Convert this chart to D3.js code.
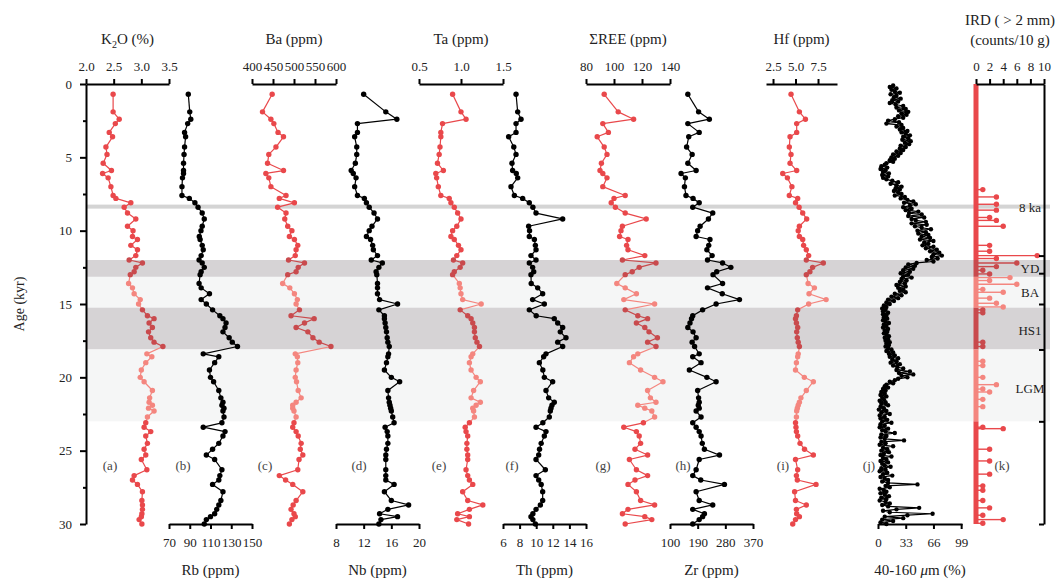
<!DOCTYPE html>
<html>
<head>
<meta charset="utf-8">
<script src="https://cdn.jsdelivr.net/npm/d3@7"></script>
<style>
  body { margin: 0; background: #fff; }
  svg text { font-family: "Liberation Serif", "DejaVu Serif", serif; fill: #222; }
</style>
</head>
<body>
<svg id="chart" width="1057" height="579"></svg>
<script>
// sample ages (kyr) shared by the geochemistry panels a-i
const ages = [0.7, 1.9, 2.4, 2.7, 3.3, 3.6, 4.3, 4.8, 5.4, 5.9,
  6.1, 6.4, 7.0, 7.6, 7.8, 8.1, 8.4, 8.8, 9.2, 9.7,
  10.0, 10.4, 10.6, 11.0, 11.3, 11.7, 12.0, 12.2, 12.5, 12.8,
  13.0, 13.6, 13.9, 14.3, 14.7, 15.0, 15.4, 15.8, 16.0, 16.3,
  16.6, 16.9, 17.3, 17.6, 17.9, 18.4, 18.6, 19.0, 19.5, 20.0,
  20.3, 20.9, 21.4, 21.7, 21.9, 22.1, 22.3, 22.7, 23.1, 23.4,
  23.7, 24.0, 24.5, 24.9, 25.3, 25.6, 26.3, 26.7, 27.0, 27.3,
  27.8, 28.4, 28.7, 29.0, 29.3, 29.5, 29.7, 30.0];

const k2o = [2.49, 2.49, 2.60, 2.53, 2.42, 2.48, 2.36, 2.38, 2.31, 2.46,
  2.30, 2.40, 2.45, 2.49, 2.54, 2.81, 2.69, 2.75, 2.90, 2.75,
  2.85, 2.84, 2.93, 2.81, 2.93, 2.90, 2.78, 3.02, 2.90, 2.87,
  2.80, 2.77, 2.84, 2.87, 2.98, 2.95, 3.02, 3.11, 3.23, 3.14,
  3.20, 3.13, 3.17, 3.23, 3.39, 3.10, 3.19, 3.08, 3.00, 2.98,
  3.05, 3.20, 3.15, 3.14, 3.20, 3.13, 3.23, 3.11, 3.08, 3.05,
  3.17, 3.08, 3.11, 3.05, 3.08, 3.00, 3.10, 2.87, 2.84, 2.93,
  3.02, 3.01, 3.02, 3.02, 3.01, 3.00, 2.96, 3.01];

const rb = [88.6, 90, 91, 88, 85, 86, 85, 84.5, 84, 84,
  84, 83, 82.5, 82.5, 89.6, 95, 98, 102, 104, 102,
  100.8, 99.2, 100, 102, 103, 101, 99, 102, 104, 101,
  100, 99, 101, 109, 101, 106, 112, 119, 122, 125,
  124, 122, 128, 131, 136, 103, 118, 114, 109, 110,
  113, 118, 120, 122, 121, 123, 122, 123, 121, 103,
  124, 122, 118, 112, 106, 114, 121, 119, 118, 112,
  122, 120, 118, 116, 114, 110, 106, 104];

const ba = [448, 425, 445, 452, 462, 475, 457, 440, 437, 475,
  433, 440, 445, 481, 465, 501, 461, 481, 478, 485,
  495, 489, 501, 509, 505, 503, 487, 525, 510, 505,
  485, 473, 490, 501, 508, 505, 513, 493, 548, 525,
  505, 533, 545, 560, 588, 503, 508, 509, 505, 503,
  506, 510, 517, 505, 497, 497, 500, 505, 500, 497,
  505, 510, 517, 515, 521, 512, 509, 465, 480, 497,
  521, 505, 498, 493, 500, 503, 495, 489];

const nb = [12.0, 15.2, 16.8, 11.1, 11.1, 10.7, 11.0, 11.0, 10.8, 10.2,
  10.5, 10.9, 10.7, 11.1, 12.1, 12.4, 12.8, 13.5, 14.0, 13.2,
  12.8, 12.4, 13.0, 13.3, 13.4, 14.0, 13.1, 14.7, 14.2, 13.8,
  13.9, 14.0, 14.0, 14.0, 14.3, 16.9, 14.2, 15.0, 15.0, 15.1,
  15.2, 15.3, 15.4, 15.5, 15.7, 15.6, 15.5, 15.3, 15.0, 16.0,
  17.2, 15.5, 15.6, 15.7, 15.8, 15.9, 16.0, 16.2, 16.4, 15.1,
  15.4, 15.5, 15.5, 15.3, 15.2, 15.2, 15.2, 15.2, 15.2, 16.4,
  15.0, 16.0, 18.5, 15.5, 14.3, 16.9, 14.5, 14.2];

const ta = [0.90, 1.00, 1.06, 0.78, 0.76, 0.76, 0.75, 0.74, 0.72, 0.79,
  0.70, 0.71, 0.73, 0.76, 0.86, 0.88, 0.92, 0.96, 1.00, 0.95,
  0.90, 0.88, 0.92, 0.97, 1.00, 0.95, 0.91, 1.02, 0.99, 0.92,
  0.90, 0.98, 0.99, 1.00, 1.02, 1.24, 0.99, 1.08, 1.12, 1.14,
  1.16, 1.16, 1.17, 1.19, 1.22, 1.14, 1.12, 1.10, 1.12, 1.18,
  1.23, 1.15, 1.12, 1.23, 1.18, 1.14, 1.15, 1.16, 1.10, 1.05,
  1.06, 1.08, 1.07, 1.07, 1.08, 1.08, 1.06, 1.08, 1.10, 1.14,
  1.02, 1.08, 1.26, 1.10, 0.96, 1.10, 0.95, 1.09];

const th = [7.57, 7.77, 8.17, 7.57, 7.57, 6.68, 7.3, 7.57, 7.08, 7.16,
  7.6, 7.77, 6.96, 7.37, 8.37, 9.17, 9.6, 9.98, 13.19, 9.09,
  9.2, 9.17, 9.78, 9.9, 9.98, 9.37, 9.98, 9.17, 9.57, 9.7,
  9.37, 9.4, 10.18, 10.78, 9.57, 10.98, 9.17, 10.0, 12.18, 12.59,
  13.19, 12.9, 13.59, 12.59, 13.19, 11.18, 10.9, 10.38, 10.8, 10.98,
  11.98, 11.18, 11.5, 12.18, 11.9, 11.78, 11.7, 11.58, 10.8, 9.98,
  11.18, 10.98, 10.6, 10.4, 10.3, 9.98, 11.1, 9.98, 10.3, 10.6,
  10.78, 10.78, 10.5, 9.98, 9.6, 9.37, 9.6, 9.9];

const ree = [93, 103, 114, 92, 96, 88, 93, 95, 91, 90,
  92, 95, 92, 108, 100, 98, 101, 108, 123, 106,
  105, 104, 110, 109, 110, 122, 106, 130, 118, 113,
  108, 102, 108, 116, 107, 129, 108, 117, 124, 116,
  122, 125, 131, 124, 130, 117, 114, 111, 119, 129,
  135, 124, 126, 130, 117, 122, 127, 129, 121, 107,
  116, 118, 119, 115, 124, 111, 116, 124, 115, 110,
  116, 119, 129, 110, 106, 122, 127, 108];

const zr = [158, 193, 228, 158, 195, 161, 154, 172, 158, 185,
  136, 150, 147, 152, 175, 195, 174, 239, 225, 198,
  190, 185, 230, 226, 220, 237, 222, 271, 298, 252,
  240, 271, 222, 270, 326, 250, 206, 174, 170, 165,
  158, 175, 185, 172, 180, 195, 174, 201, 163, 220,
  250, 190, 193, 195, 192, 195, 185, 201, 174, 185,
  195, 201, 205, 212, 261, 195, 185, 174, 200, 277,
  185, 195, 239, 174, 212, 206, 195, 174];

const hf = [4.5, 5.43, 6.1, 5.13, 5.13, 4.39, 4.31, 4.5, 4.39, 5.13,
  3.58, 4.1, 4.6, 4.31, 5.24, 5.0, 5.4, 5.8, 6.24, 5.43,
  5.3, 5.43, 5.8, 5.9, 6.2, 6.46, 6.2, 8.09, 6.9, 6.6,
  6.2, 6.4, 7.1, 6.5, 8.4, 6.46, 5.24, 5.1, 5.0, 5.1,
  5.24, 5.13, 5.2, 5.3, 5.43, 5.3, 5.24, 5.1, 5.0, 5.98,
  6.98, 6.2, 5.6, 5.43, 5.3, 5.2, 5.13, 5.1, 5.0, 5.05,
  5.1, 5.24, 5.5, 6.0, 6.98, 5.0, 5.24, 5.1, 5.2, 7.28,
  4.9, 5.0, 6.2, 5.1, 5.13, 5.43, 5.0, 4.69];

// 40-160 um fraction (%): [age, percent]
const grainSize = [
  [0.1,18],[0.2,14],[0.3,22],[0.4,16],[0.5,20],[0.6,26],[0.7,15],[0.8,22],[0.9,19],[1.0,27],
  [1.1,17],[1.2,24],[1.3,14],[1.4,21],[1.5,30],[1.6,22],[1.7,33],[1.8,25],[1.9,36],[2.0,28],
  [2.1,34],[2.2,24],[2.3,30],[2.4,20],[2.5,12],[2.6,25],[2.7,10],[2.8,28],[2.9,22],[3.0,30],
  [3.1,26],[3.2,35],[3.3,28],[3.4,33],[3.5,38],[3.6,30],[3.7,36],[3.8,29],[3.9,39],[4.0,32],
  [4.1,37],[4.2,27],[4.3,33],[4.4,26],[4.5,30],[4.6,22],[4.7,27],[4.8,18],[4.9,24],[5.0,16],
  [5.1,20],[5.2,14],[5.3,18],[5.4,10],[5.5,8],[5.6,4],[5.7,11],[5.8,3],[5.9,9],[6.0,6],
  [6.1,13],[6.2,5],[6.3,12],[6.4,6],[6.5,10],[6.6,17],[6.7,24],[6.8,15],[6.9,22],[7.0,28],
  [7.1,21],[7.2,26],[7.3,19],[7.4,24],[7.5,28],[7.6,20],[7.7,32],[7.8,27],[7.9,35],[8.0,42],
  [8.1,31],[8.2,45],[8.3,38],[8.4,30],[8.5,40],[8.6,33],[8.7,48],[8.8,37],[8.9,52],[9.0,36],
  [9.1,55],[9.2,40],[9.3,45],[9.4,57],[9.5,40],[9.6,58],[9.7,44],[9.8,52],[9.9,63],[10.0,47],
  [10.1,57],[10.2,48],[10.3,60],[10.4,52],[10.5,62],[10.6,50],[10.7,66],[10.8,55],[10.9,60],[11.0,53],
  [11.1,66],[11.2,57],[11.3,70],[11.4,62],[11.5,73],[11.6,66],[11.7,76],[11.8,64],[11.9,71],[12.0,58],
  [12.1,66],[12.2,46],[12.3,36],[12.4,44],[12.5,33],[12.6,42],[12.7,30],[12.8,38],[12.9,27],[13.0,36],
  [13.1,30],[13.2,40],[13.3,28],[13.4,34],[13.5,26],[13.6,32],[13.7,22],[13.8,33],[13.9,24],[14.0,30],
  [14.1,26],[14.2,33],[14.3,20],[14.4,28],[14.5,16],[14.6,24],[14.7,12],[14.8,19],[14.9,10],[15.0,14],
  [15.1,7],[15.2,10],[15.3,5],[15.4,9],[15.5,6],[15.6,12],[15.7,6],[15.8,10],[15.9,7],[16.0,11],
  [16.1,6],[16.2,9],[16.3,13],[16.4,7],[16.5,10],[16.6,6],[16.7,12],[16.8,8],[16.9,11],[17.0,7],
  [17.1,10],[17.2,13],[17.3,8],[17.4,12],[17.5,9],[17.6,14],[17.7,10],[17.8,13],[17.9,9],[18.0,12],
  [18.1,16],[18.2,10],[18.3,18],[18.4,13],[18.5,20],[18.6,14],[18.7,24],[18.8,17],[18.9,22],[19.0,15],
  [19.1,26],[19.2,18],[19.3,23],[19.4,30],[19.5,22],[19.6,38],[19.7,25],[19.8,42],[19.9,28],[20.0,35],
  [20.1,24],[20.2,20],[20.3,14],[20.4,18],[20.5,10],[20.6,8],[20.7,12],[20.8,6],[20.9,9],[21.0,4],
  [21.1,8],[21.2,3],[21.3,10],[21.4,5],[21.5,7],[21.6,2],[21.7,9],[21.8,4],[21.9,12],[22.0,3],
  [22.1,7],[22.2,1],[22.3,10],[22.4,4],[22.5,14],[22.6,2],[22.7,8],[22.8,3],[22.9,11],[23.0,5],
  [23.1,16],[23.2,3],[23.3,8],[23.4,2],[23.5,12],[23.6,5],[23.7,9],[23.8,20],[23.9,4],[24.0,10],
  [24.1,3],[24.2,8],[24.3,31],[24.4,4],[24.5,9],[24.6,2],[24.7,18],[24.8,6],[24.9,11],[25.0,4],
  [25.1,13],[25.2,7],[25.3,3],[25.4,16],[25.5,6],[25.6,10],[25.7,3],[25.8,12],[25.9,5],[26.0,8],
  [26.1,15],[26.2,4],[26.3,9],[26.4,2],[26.5,11],[26.6,6],[26.7,17],[26.8,3],[26.9,8],[27.0,12],
  [27.1,5],[27.2,12],[27.3,47],[27.4,9],[27.5,14],[27.6,2],[27.7,7],[27.8,10],[27.9,3],[28.0,8],
  [28.1,13],[28.2,4],[28.3,10],[28.4,2],[28.5,9],[28.6,14],[28.7,5],[28.8,12],[28.9,49],[29.0,22],
  [29.1,6],[29.2,14],[29.3,65],[29.4,35],[29.5,8],[29.6,30],[29.7,5],[29.8,18],[29.9,3],[30.0,10]
];

// IRD > 2 mm, non-zero samples only (counts / 10 g)
const irdAges = [7.2, 7.7, 8.2, 8.6, 9.1, 9.3, 9.7, 11.0, 11.4, 11.7,
  11.9, 12.2, 12.45, 12.7, 12.95, 13.2, 13.4, 13.65, 14.0, 14.2,
  14.6, 14.95, 15.2, 15.4, 15.6, 17.6, 17.9, 18.9, 19.2, 20.0,
  20.5, 20.8, 21.0, 21.5, 22.0, 23.4, 23.5, 24.9, 25.7, 26.6,
  27.4, 27.7, 28.4, 28.9, 29.4, 29.7, 29.95];
const irdCounts = [1, 3, 3, 3, 2, 3, 4, 2, 2, 9,
  3, 6, 3, 1, 2, 5, 2, 6, 1, 4,
  2, 3, 4, 1, 1, 1, 1, 1, 1, 1,
  3, 1, 2, 1, 1, 1, 4, 2, 2, 2,
  1, 1, 1, 2, 1, 4, 1];

// climate intervals (kyr)
const ydBand = [12.0, 13.15];
const baBand = [13.15, 15.25];
const hs1Band = [15.25, 18.1];
const lgmBand = [18.1, 23.0];
const event8ka = 8.36;
const boundaryTicks = [11.7, 12.9, 15.0, 18.1, 23.0, 30];
const ageTicks = [0, 5, 10, 15, 20, 25, 30];
const ageMinor = [2.5, 7.5, 12.5, 17.5, 22.5, 27.5];

const FONT = "'Liberation Serif', 'DejaVu Serif', serif";
const RED = "#e9484b", SALMON = "#f4867f", DARK_RED = "#c94a4d";
const BAND_DARK = "#d6d3d5", BAND_LIGHT = "#f5f6f6";

const svg = d3.select("#chart");
const y = d3.scaleLinear().domain([0, 30]).range([84, 524]);
const plotLeft = 86, plotRight = 1050;

function periodColor(a) {
  if ((a >= ydBand[0] && a < ydBand[1]) || (a >= hs1Band[0] && a < hs1Band[1])) return DARK_RED;
  if ((a >= baBand[0] && a < baBand[1]) || (a >= lgmBand[0] && a <= lgmBand[1])) return SALMON;
  return RED;
}

// background bands
const bandG = svg.append("g");
[[ydBand, BAND_DARK], [baBand, BAND_LIGHT], [hs1Band, BAND_DARK], [lgmBand, BAND_LIGHT]].forEach(([b, c]) => {
  bandG.append("rect")
    .attr("x", plotLeft).attr("width", plotRight - plotLeft)
    .attr("y", y(b[0])).attr("height", y(b[1]) - y(b[0]))
    .attr("fill", c);
});
bandG.append("rect")
  .attr("x", plotLeft).attr("width", plotRight - plotLeft)
  .attr("y", y(event8ka) - 2).attr("height", 4)
  .attr("fill", "#d4d4d4");

const panels = [
  { vals: k2o, domain: [2, 3.5], range: [86, 169], side: "top", ticks: [2, 2.5, 3, 3.5], fmt: ".1f", red: true, label: "(a)", lx: 110, title: "K2O" },
  { vals: rb, domain: [70, 150], range: [169, 252], side: "bottom", ticks: [70, 90, 110, 130, 150], fmt: "d", red: false, label: "(b)", lx: 183, title: "Rb (ppm)" },
  { vals: ba, domain: [400, 600], range: [252, 336], side: "top", ticks: [400, 450, 500, 550, 600], fmt: "d", red: true, label: "(c)", lx: 265, title: "Ba (ppm)" },
  { vals: nb, domain: [8, 20], range: [336, 419], side: "bottom", ticks: [8, 12, 16, 20], fmt: "d", red: false, label: "(d)", lx: 359, title: "Nb (ppm)" },
  { vals: ta, domain: [0.5, 1.5], range: [419, 503], side: "top", ticks: [0.5, 1, 1.5], fmt: ".1f", red: true, label: "(e)", lx: 439, title: "Ta (ppm)" },
  { vals: th, domain: [6, 16], range: [503, 586], side: "bottom", ticks: [6, 8, 10, 12, 14, 16], fmt: "d", red: false, label: "(f)", lx: 512, title: "Th (ppm)" },
  { vals: ree, domain: [80, 140], range: [586, 670], side: "top", ticks: [80, 100, 120, 140], fmt: "d", red: true, label: "(g)", lx: 603, title: "\u03A3REE (ppm)" },
  { vals: zr, domain: [100, 370], range: [670, 753], side: "bottom", ticks: [100, 190, 280, 370], fmt: "d", red: false, label: "(h)", lx: 683, title: "Zr (ppm)" },
  { vals: hf, domain: [1.72, 9.61], range: [766, 837], side: "top", ticks: [2.5, 5, 7.5], fmt: ".1f", red: true, label: "(i)", lx: 783, title: "Hf (ppm)" }
];

function drawAxis(x, side, ticks, fmt) {
  const ax = (side === "top" ? d3.axisTop(x) : d3.axisBottom(x))
    .tickValues(ticks).tickFormat(d3.format(fmt))
    .tickSize(5).tickSizeOuter(0).tickPadding(side === "top" ? 8 : 9);
  const g = svg.append("g")
    .attr("transform", `translate(0,${side === "top" ? 84 : 524})`)
    .call(ax)
    .attr("font-family", FONT).attr("font-size", 13);
  g.select(".domain").attr("stroke", "#000").attr("stroke-width", 2);
  g.selectAll(".tick line").attr("stroke", "#000").attr("stroke-width", 2);
  g.selectAll(".tick text").attr("fill", "#222");
  return g;
}

function axisTitle(text, cx, side) {
  return svg.append("text")
    .attr("x", cx).attr("y", side === "top" ? 44 : 575)
    .attr("text-anchor", "middle").attr("font-size", 15)
    .text(text);
}

function panelLabel(text, x) {
  svg.append("text").attr("x", x).attr("y", 470)
    .attr("text-anchor", "middle").attr("font-size", 13)
    .style("fill", "#444").text(text);
}

panels.forEach(p => {
  const x = d3.scaleLinear().domain(p.domain).range(p.range);
  const pts = ages.map((a, i) => ({ a, v: p.vals[i] }));
  const g = svg.append("g");
  g.selectAll("line").data(d3.pairs(pts)).join("line")
    .attr("x1", d => x(d[0].v)).attr("y1", d => y(d[0].a))
    .attr("x2", d => x(d[1].v)).attr("y2", d => y(d[1].a))
    .attr("stroke", d => p.red ? periodColor((d[0].a + d[1].a) / 2) : "#000")
    .attr("stroke-width", 1.2);
  g.selectAll("circle").data(pts).join("circle")
    .attr("cx", d => x(d.v)).attr("cy", d => y(d.a)).attr("r", 2.7)
    .attr("fill", d => p.red ? periodColor(d.a) : "#000");
  drawAxis(x, p.side, p.ticks, p.fmt);
  panelLabel(p.label, p.lx);
  if (p.title === "K2O") {
    const t = axisTitle("", (p.range[0] + p.range[1]) / 2, "top");
    t.append("tspan").text("K");
    t.append("tspan").attr("font-size", 10).attr("dy", 4).text("2");
    t.append("tspan").attr("dy", -4).text("O (%)");
  } else {
    axisTitle(p.title, (p.range[0] + p.range[1]) / 2, p.side);
  }
});

// (j) 40-160 um fraction
const xg = d3.scaleLinear().domain([0, 100]).range([878, 962]);
const gj = svg.append("g");
gj.append("path").datum(grainSize)
  .attr("d", d3.line().x(d => xg(d[1])).y(d => y(d[0])))
  .attr("fill", "none").attr("stroke", "#000").attr("stroke-width", 1.2);
gj.selectAll("circle").data(grainSize).join("circle")
  .attr("cx", d => xg(d[1])).attr("cy", d => y(d[0])).attr("r", 2.2).attr("fill", "#000");
drawAxis(xg, "bottom", [0, 33, 66, 99], "d");
panelLabel("(j)", 869);
const tj = axisTitle("", 920, "bottom");
tj.append("tspan").text("40-160 ");
tj.append("tspan").attr("font-style", "italic").text("\u03BC");
tj.append("tspan").text("m (%)");

// (k) IRD
const xi = d3.scaleLinear().domain([0, 10]).range([976, 1044]);
const gk = svg.append("g");
const segs = [[0, ydBand[0]], ydBand, baBand, hs1Band, lgmBand, [lgmBand[1], 30]];
gk.selectAll("line.base").data(segs).join("line").attr("class", "base")
  .attr("x1", xi(0)).attr("x2", xi(0))
  .attr("y1", d => y(d[0])).attr("y2", d => y(d[1]))
  .attr("stroke", d => periodColor((d[0] + d[1]) / 2)).attr("stroke-width", 5);
const ird = irdAges.map((a, i) => ({ a, v: irdCounts[i] }));
gk.selectAll("line.stem").data(ird).join("line").attr("class", "stem")
  .attr("x1", xi(0)).attr("x2", d => xi(d.v))
  .attr("y1", d => y(d.a)).attr("y2", d => y(d.a))
  .attr("stroke", d => periodColor(d.a)).attr("stroke-width", 1.4);
gk.selectAll("circle").data(ird).join("circle")
  .attr("cx", d => xi(d.v)).attr("cy", d => y(d.a)).attr("r", 2.7)
  .attr("fill", d => periodColor(d.a));
drawAxis(xi, "top", [0, 2, 4, 6, 8, 10], "d");
panelLabel("(k)", 1002);
svg.append("text").attr("x", 1010).attr("y", 25).attr("text-anchor", "middle")
  .attr("font-size", 15).text("IRD ( > 2 mm)");
svg.append("text").attr("x", 1010).attr("y", 45).attr("text-anchor", "middle")
  .attr("font-size", 15).text("(counts/10 g)");

// left age axis
const la = svg.append("g").attr("transform", `translate(${plotLeft},0)`)
  .call(d3.axisLeft(y).tickValues(ageTicks).tickSize(6).tickPadding(8).tickSizeOuter(0))
  .attr("font-family", FONT).attr("font-size", 13);
la.select(".domain").attr("stroke", "#000").attr("stroke-width", 2);
la.selectAll(".tick line").attr("stroke", "#000").attr("stroke-width", 2);
const lm = svg.append("g").attr("transform", `translate(${plotLeft},0)`)
  .call(d3.axisLeft(y).tickValues(ageMinor).tickSize(3).tickFormat("").tickSizeOuter(0));
lm.select(".domain").remove();
lm.selectAll(".tick line").attr("stroke", "#000").attr("stroke-width", 2);

// right boundary axis
const ra = svg.append("g").attr("transform", "translate(1044,0)")
  .call(d3.axisRight(y).tickValues(boundaryTicks).tickSize(-5).tickFormat("").tickSizeOuter(0));
ra.select(".domain").attr("stroke", "#000").attr("stroke-width", 2);
ra.selectAll(".tick line").attr("stroke", "#000").attr("stroke-width", 2);

svg.append("text").attr("transform", "translate(24,304) rotate(-90)")
  .attr("text-anchor", "middle").attr("font-size", 14).text("Age (kyr)");

// interval labels
const intervalLabels = [["8 ka", event8ka], ["YD", 12.55], ["BA", 14.2], ["HS1", 16.8], ["LGM", 20.7]];
svg.selectAll("text.iv").data(intervalLabels).join("text").attr("class", "iv")
  .attr("x", 1030).attr("y", d => y(d[1]) + 5)
  .attr("text-anchor", "middle").attr("font-size", 13)
  .text(d => d[0]);
</script>
</body>
</html>
